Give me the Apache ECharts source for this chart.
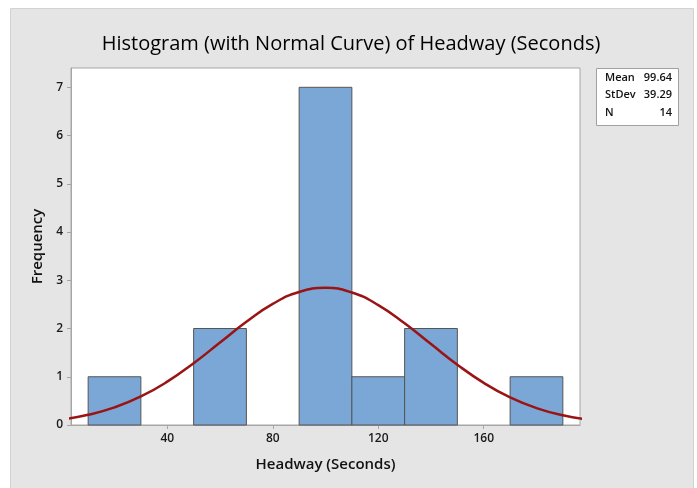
<!DOCTYPE html>
<html>
<head>
<meta charset="utf-8">
<style>
  html, body { margin: 0; padding: 0; background: #ffffff; }
  #chart { width: 697px; height: 488px; }
</style>
<script src="https://cdn.jsdelivr.net/npm/echarts@6/dist/echarts.min.js"></script>
</head>
<body>
<div id="chart"></div>
<script>
// Histogram bins (seconds) and their counts
const binStart = [10, 30, 50, 70, 90, 110, 130, 150, 170];
const binEnd   = [30, 50, 70, 90, 110, 130, 150, 170, 190];
const counts   = [1, 0, 2, 0, 7, 1, 2, 0, 1];

// Fitted normal curve, sampled every 10 seconds
const curveX = [0, 10, 20, 30, 40, 50, 60, 70, 80, 90, 100, 110, 120, 130, 140, 150, 160, 170, 180, 190, 200];
const curveY = [0.114, 0.211, 0.364, 0.591, 0.898, 1.280, 1.709, 2.138, 2.510, 2.758, 2.843,
                2.746, 2.486, 2.109, 1.678, 1.250, 0.874, 0.572, 0.351, 0.202, 0.109];

// Summary statistics
const statNames  = ['Mean', 'StDev', 'N'];
const statValues = ['99.64', '39.29', '14'];

const xTicks = [40, 80, 120, 160];

const FONT = '"Open Sans", "Noto Sans", sans-serif';

const chart = echarts.init(document.getElementById('chart'), null, { renderer: 'canvas' });

const bars = binStart.map((s, i) => [s, binEnd[i], counts[i]]).filter(d => d[2] > 0);
const curve = curveX.map((x, i) => [x, curveY[i]]);

const statGraphics = [];
statNames.forEach((n, i) => {
  statGraphics.push({
    type: 'text', left: 605, top: 72 + i * 17.5, z: 11,
    style: { text: n, font: '600 11px ' + FONT, fill: '#111' }
  });
  statGraphics.push({
    type: 'text', right: 697 - 672, top: 72 + i * 17.5, z: 11,
    style: { text: statValues[i], font: '600 11px ' + FONT, fill: '#111', align: 'right' }
  });
});

chart.setOption({
  backgroundColor: '#ffffff',
  animation: false,
  graphic: [
    {
      type: 'rect', z: -10, silent: true,
      shape: { x: 10.5, y: 8.5, width: 683, height: 490 },
      style: { fill: '#e5e5e5', stroke: '#d2d2d2', lineWidth: 1 }
    },
    {
      type: 'text', z: 10,
      x: 351, y: 44,
      style: {
        text: 'Histogram (with Normal Curve) of Headway (Seconds)',
        font: '500 20px ' + FONT, fill: '#000', align: 'center', verticalAlign: 'middle'
      }
    },
    {
      type: 'rect', z: 10,
      shape: { x: 596.5, y: 68.5, width: 82, height: 57 },
      style: { fill: '#ffffff', stroke: '#a0a0a0', lineWidth: 1 }
    },
    ...statGraphics
  ],
  grid: {
    left: 71, right: 117, top: 68, bottom: 63,
    show: true, backgroundColor: '#ffffff', borderColor: '#a6a6a6', borderWidth: 1
  },
  xAxis: {
    type: 'value', min: 3.5, max: 196.5,
    name: 'Headway (Seconds)', nameLocation: 'middle', nameGap: 32,
    nameTextStyle: { fontFamily: FONT, fontSize: 15, fontWeight: 600, color: '#111' },
    axisLine: { lineStyle: { color: '#a6a6a6' } },
    axisTick: { show: true, length: 4, customValues: xTicks, lineStyle: { color: '#a6a6a6' } },
    axisLabel: { customValues: xTicks, fontFamily: FONT, fontSize: 12, fontWeight: 600, color: '#1a1a1a', margin: 8 },
    splitLine: { show: false }
  },
  yAxis: {
    type: 'value', min: 0, max: 7.4, interval: 1,
    name: 'Frequency', nameLocation: 'middle', nameGap: 26,
    nameTextStyle: { fontFamily: FONT, fontSize: 15, fontWeight: 600, color: '#111' },
    axisLine: { show: true, lineStyle: { color: '#a6a6a6' } },
    axisTick: { show: true, length: 4, lineStyle: { color: '#a6a6a6' } },
    axisLabel: { fontFamily: FONT, fontSize: 12, fontWeight: 600, color: '#1a1a1a', margin: 8, showMaxLabel: false },
    splitLine: { show: false }
  },
  series: [
    {
      type: 'custom',
      data: bars,
      renderItem: function (params, api) {
        const p0 = api.coord([api.value(0), 0]);
        const p1 = api.coord([api.value(1), api.value(2)]);
        return {
          type: 'rect',
          shape: { x: p0[0], y: p1[1], width: p1[0] - p0[0], height: p0[1] - p1[1] },
          style: { fill: '#7ba7d7', stroke: '#555555', lineWidth: 1 }
        };
      },
      encode: { x: [0, 1], y: 2 },
      z: 2
    },
    {
      type: 'line',
      data: curve,
      smooth: true,
      symbol: 'none',
      clip: true,
      lineStyle: { color: '#9b1414', width: 2.5 },
      z: 3
    }
  ]
});
</script>
</body>
</html>
